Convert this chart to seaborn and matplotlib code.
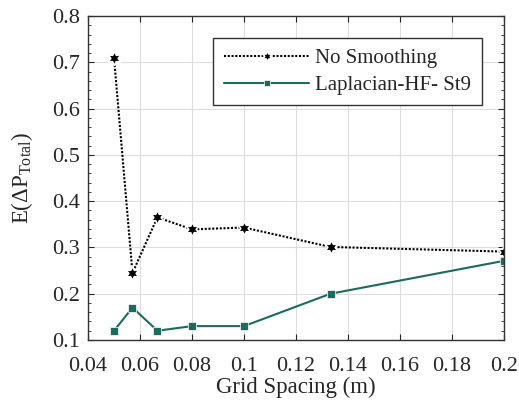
import numpy as np
import pandas as pd
import matplotlib
matplotlib.use("Agg")
import matplotlib.pyplot as plt
import seaborn as sns
from matplotlib.ticker import MultipleLocator, FuncFormatter

grid_spacing = [0.05, 0.0571, 0.0667, 0.08, 0.1, 0.1333, 0.2]
no_smoothing = [0.71, 0.245, 0.365, 0.339, 0.343, 0.301, 0.291]
laplacian = [0.12, 0.17, 0.12, 0.13, 0.13, 0.20, 0.271]
series_names = ["No Smoothing", "Laplacian-HF- St9"]

sns.set_style("ticks")
plt.rcParams["font.family"] = ["Liberation Serif", "DejaVu Serif"]
plt.rcParams["mathtext.fontset"] = "custom"
plt.rcParams["mathtext.rm"] = "Liberation Serif"
plt.rcParams["mathtext.it"] = "Liberation Serif:italic"

df = pd.DataFrame({
    "x": grid_spacing * 2,
    "y": no_smoothing + laplacian,
    "series": [series_names[0]] * len(grid_spacing) + [series_names[1]] * len(grid_spacing),
})

fig = plt.figure(figsize=(5.19, 4.00), dpi=100)
ax = fig.add_axes([0.1696, 0.15, 0.8014, 0.81])

teal = "#1b6b5e"
star = (6, 1, 0)
sns.lineplot(data=df, x="x", y="y", hue="series", style="series",
             palette={series_names[0]: "black", series_names[1]: teal},
             dashes={series_names[0]: (1, 0.8), series_names[1]: ""},
             markers={series_names[0]: star, series_names[1]: "s"},
             markersize=10.5, markeredgewidth=1.2, linewidth=1.5, ax=ax, legend=True)

for line in ax.lines:
    if line.get_marker() == "s":
        line.set_markersize(5.5)
        line.set_markeredgewidth(0.5)

ax.set_xlim(0.04, 0.2)
ax.set_ylim(0.1, 0.8)
ax.xaxis.set_major_locator(MultipleLocator(0.02))
ax.yaxis.set_major_locator(MultipleLocator(0.1))
ax.yaxis.set_minor_locator(MultipleLocator(0.02))
ax.xaxis.set_major_formatter(FuncFormatter(lambda v, p: f"{round(v, 2):g}"))
ax.yaxis.set_major_formatter(FuncFormatter(lambda v, p: f"{round(v, 1):g}"))
ax.tick_params(which="both", direction="in", top=True, right=True, labelsize=16)
ax.tick_params(axis="x", pad=12)
ax.tick_params(axis="y", pad=6)
ax.tick_params(which="major", length=4)
ax.tick_params(which="minor", length=2)
ax.grid(True, which="major", color="#dddddd", linewidth=0.8)
for s in ax.spines.values():
    s.set_linewidth(1.0)
    s.set_color("#333333")

ax.set_xlabel("Grid Spacing (m)", fontsize=16.5, labelpad=1)
ax.set_ylabel(r"E($\Delta$P$_{\rm Total}$)", fontsize=16.5, labelpad=12)

handles, labels = ax.get_legend_handles_labels()
for h in handles:
    if h.get_marker() == "s":
        h.set_markersize(4)
    else:
        h.set_markersize(8)
leg = ax.legend(handles, labels, loc="upper right", bbox_to_anchor=(0.947, 0.932),
                fontsize=15, frameon=True, fancybox=False, edgecolor="#333333",
                framealpha=1, handlelength=4.1, handletextpad=0.3,
                borderpad=0.5, labelspacing=0.35, borderaxespad=0)
leg.get_frame().set_linewidth(1.0)

fig.savefig("out.png", dpi=100)
